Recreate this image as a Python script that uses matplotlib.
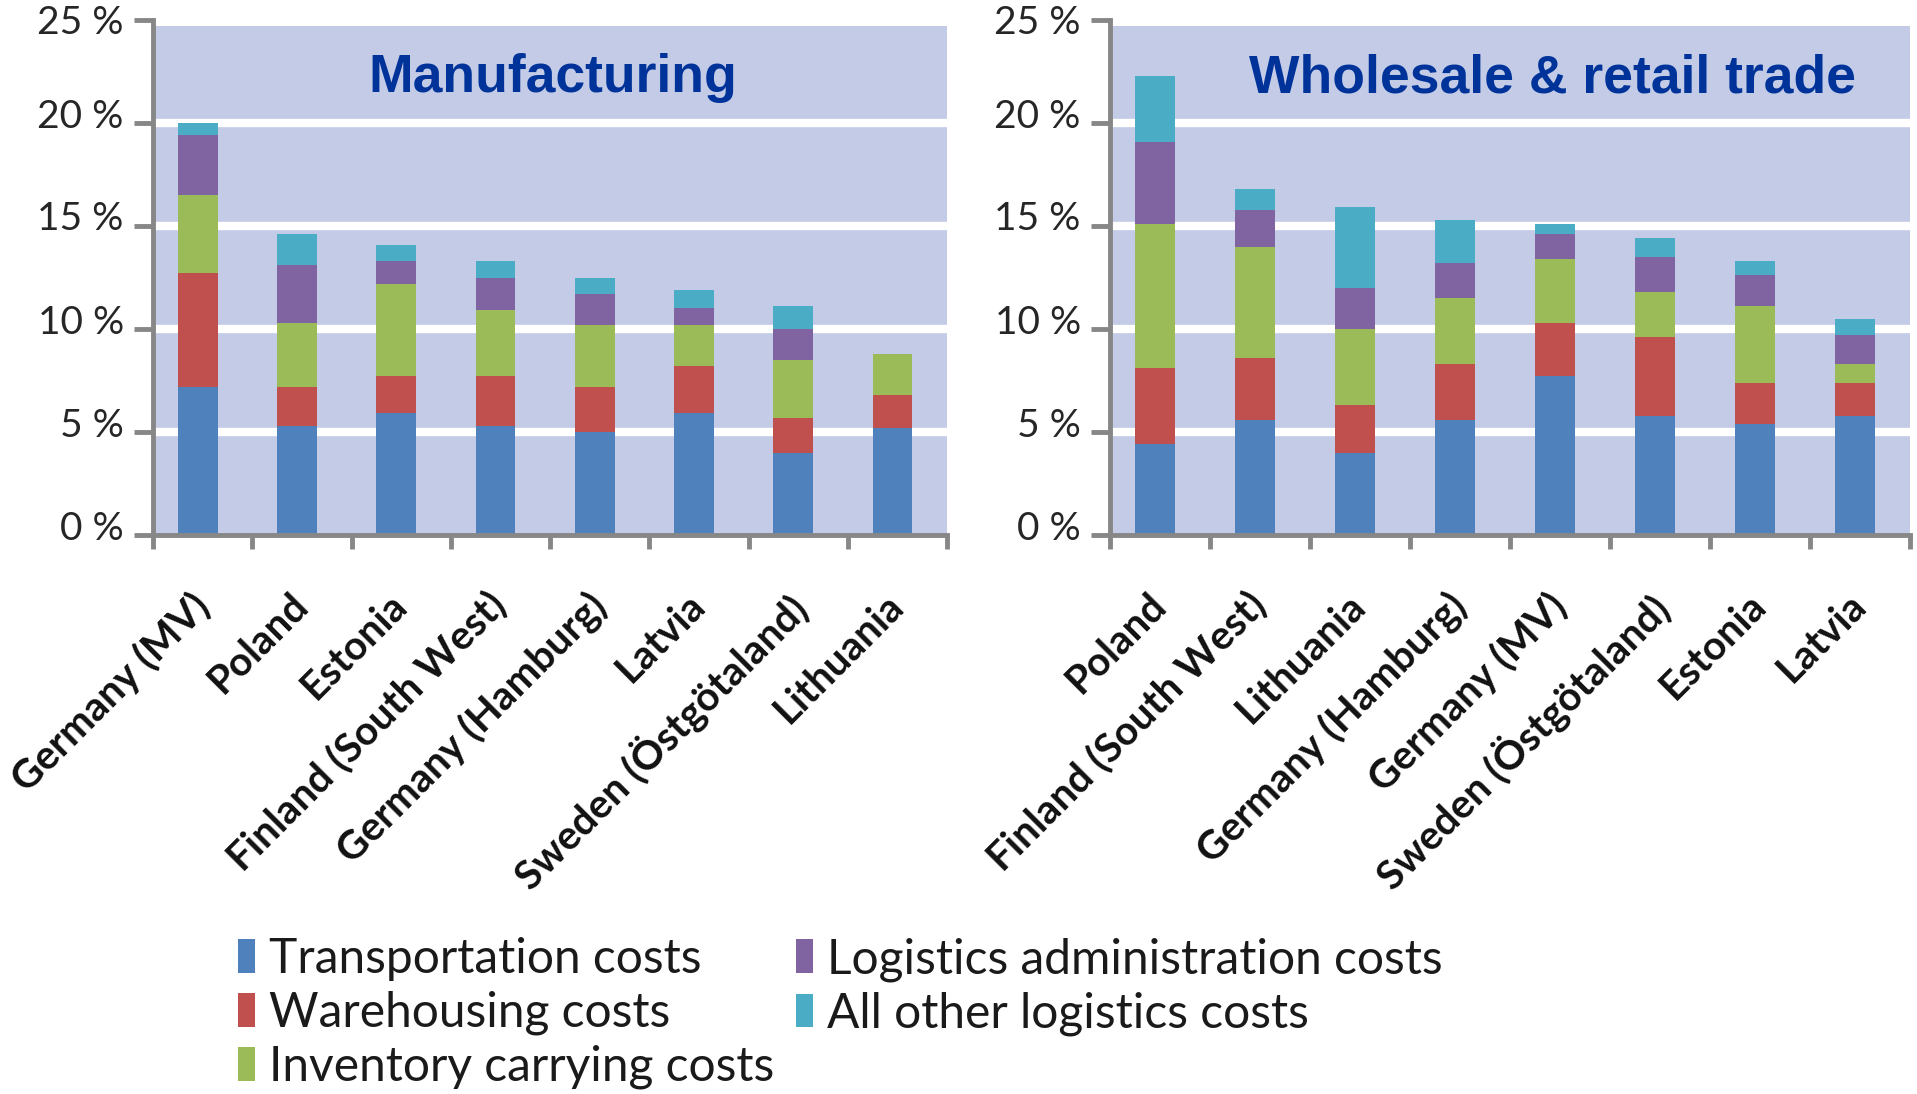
import matplotlib
matplotlib.use('Agg')
import matplotlib.pyplot as plt
import matplotlib.transforms as mtransforms
import numpy as np

# ---------------- data ----------------
series_names = ["Transportation costs", "Warehousing costs", "Inventory carrying costs",
                "Logistics administration costs", "All other logistics costs"]
series_colors = ['#4F81BD', '#C0504D', '#9BBB59', '#8064A2', '#4BACC6']

manu_title = "Manufacturing"
manu_categories = ["Germany (MV)", "Poland", "Estonia", "Finland (South West)",
                   "Germany (Hamburg)", "Latvia", "Sweden (Östgötaland)", "Lithuania"]
manu_transport = [7.2, 5.3, 5.9, 5.3, 5.0, 5.9, 4.0, 5.2]
manu_warehouse = [5.5, 1.9, 1.8, 2.4, 2.2, 2.3, 1.7, 1.6]
manu_inventory = [3.8, 3.1, 4.5, 3.2, 3.0, 2.0, 2.8, 2.0]
manu_admin     = [2.9, 2.8, 1.1, 1.6, 1.5, 0.8, 1.5, 0.0]
manu_other     = [0.6, 1.5, 0.8, 0.8, 0.8, 0.9, 1.1, 0.0]

trade_title = "Wholesale & retail trade"
trade_categories = ["Poland", "Finland (South West)", "Lithuania", "Germany (Hamburg)",
                    "Germany (MV)", "Sweden (Östgötaland)", "Estonia", "Latvia"]
trade_transport = [4.4, 5.6, 4.0, 5.6, 7.7, 5.8, 5.4, 5.8]
trade_warehouse = [3.7, 3.0, 2.3, 2.7, 2.6, 3.8, 2.0, 1.6]
trade_inventory = [7.0, 5.4, 3.7, 3.2, 3.1, 2.2, 3.7, 0.9]
trade_admin     = [4.0, 1.8, 2.0, 1.7, 1.2, 1.7, 1.5, 1.4]
trade_other     = [3.2, 1.0, 3.9, 2.1, 0.5, 0.9, 0.7, 0.8]

y_ticks = [0, 5, 10, 15, 20, 25]
y_tick_labels = ["0 %", "5 %", "10 %", "15 %", "20 %", "25 %"]

# ---------------- style ----------------
BAND = '#C3CBE7'
AXIS_GREY = '#878787'
TICK_FONT = ['Lato', 'DejaVu Sans']
TITLE_FONT = ['Liberation Sans', 'DejaVu Sans']

W, H = 1917, 1094
fig = plt.figure(figsize=(W / 100, H / 100), dpi=100)
fig.patch.set_facecolor('white')

y0_px, y25_px = 535, 20
axL = fig.add_axes([153 / W, 1 - y0_px / H, (947 - 153) / W, (y0_px - y25_px) / H])
axR = fig.add_axes([1110 / W, 1 - y0_px / H, (1910 - 1110) / W, (y0_px - y25_px) / H])


def draw(ax, title, title_x, categories, stacks):
    n = len(categories)
    x = np.arange(n)
    ax.set_facecolor('none')
    ax.axhspan(0, 24.7, color=BAND, zorder=0, lw=0)
    bottom = np.zeros(n)
    handles = []
    for vals, col, name in zip(stacks, series_colors, series_names):
        vals = np.asarray(vals, dtype=float)
        bc = ax.bar(x - 0.05, vals, width=0.4, bottom=bottom, color=col, label=name,
                    zorder=3, linewidth=0)
        handles.append(bc)
        bottom = bottom + vals
    ax.set_xlim(-0.5, n - 0.5)
    ax.set_ylim(0, 25)
    # white separators between bands
    for yv in y_ticks[1:-1]:
        ax.axhline(yv, color='white', lw=6, zorder=1)
    # spines
    for s in ['top', 'right']:
        ax.spines[s].set_visible(False)
    for s in ['left', 'bottom']:
        ax.spines[s].set_color(AXIS_GREY)
        ax.spines[s].set_linewidth(3.5)
        ax.spines[s].set_zorder(5)
    # y ticks
    ax.set_yticks(y_ticks)
    ax.set_yticklabels(y_tick_labels, fontfamily=TICK_FONT, fontsize=28, color='#262626')
    ax.tick_params(axis='y', length=14, width=3.5, color=AXIS_GREY, pad=7)
    off = mtransforms.ScaledTranslation(0, 0.10, fig.dpi_scale_trans)
    for lab in ax.get_yticklabels()[:-1]:
        lab.set_transform(lab.get_transform() + off)
    # x ticks: boundaries (major) and labels (minor)
    ax.set_xticks(np.arange(-0.5, n, 1.0))
    ax.set_xticklabels([])
    ax.tick_params(axis='x', which='major', length=10, width=3.5, color=AXIS_GREY)
    ax.set_xticks(x - 0.05, minor=True)
    ax.set_xticklabels(categories, minor=True, rotation=45, ha='right', va='top',
                       rotation_mode='anchor', fontfamily=TICK_FONT, fontweight='bold',
                       fontsize=29, color='#111111')
    ax.tick_params(axis='x', which='minor', length=0, pad=37)
    offx = mtransforms.ScaledTranslation(-0.08, 0, fig.dpi_scale_trans)
    for lab in ax.get_xticklabels(minor=True):
        lab.set_transform(lab.get_transform() + offx)
    ax.text(title_x, 0.887, title, transform=ax.transAxes, ha='center', va='center',
            fontfamily=TITLE_FONT, fontweight='bold', fontsize=38.5, color='#003399', zorder=6)
    return handles


handles = draw(axL, manu_title, 0.504, manu_categories,
               [manu_transport, manu_warehouse, manu_inventory, manu_admin, manu_other])
draw(axR, trade_title, 0.553, trade_categories,
     [trade_transport, trade_warehouse, trade_inventory, trade_admin, trade_other])

leg = fig.legend(handles, series_names, ncol=2, loc='upper left',
                 bbox_to_anchor=(238 / W, 1 - 937 / H), frameon=False,
                 prop={'family': TICK_FONT, 'size': 34.5},
                 handlelength=0.35, handleheight=0.7, handletextpad=0.3,
                 columnspacing=0.45, labelspacing=0.2, borderaxespad=0, borderpad=0)
for t in leg.get_texts():
    t.set_color('#1a1a1a')

fig.savefig('out.png', dpi=100, facecolor='white')
